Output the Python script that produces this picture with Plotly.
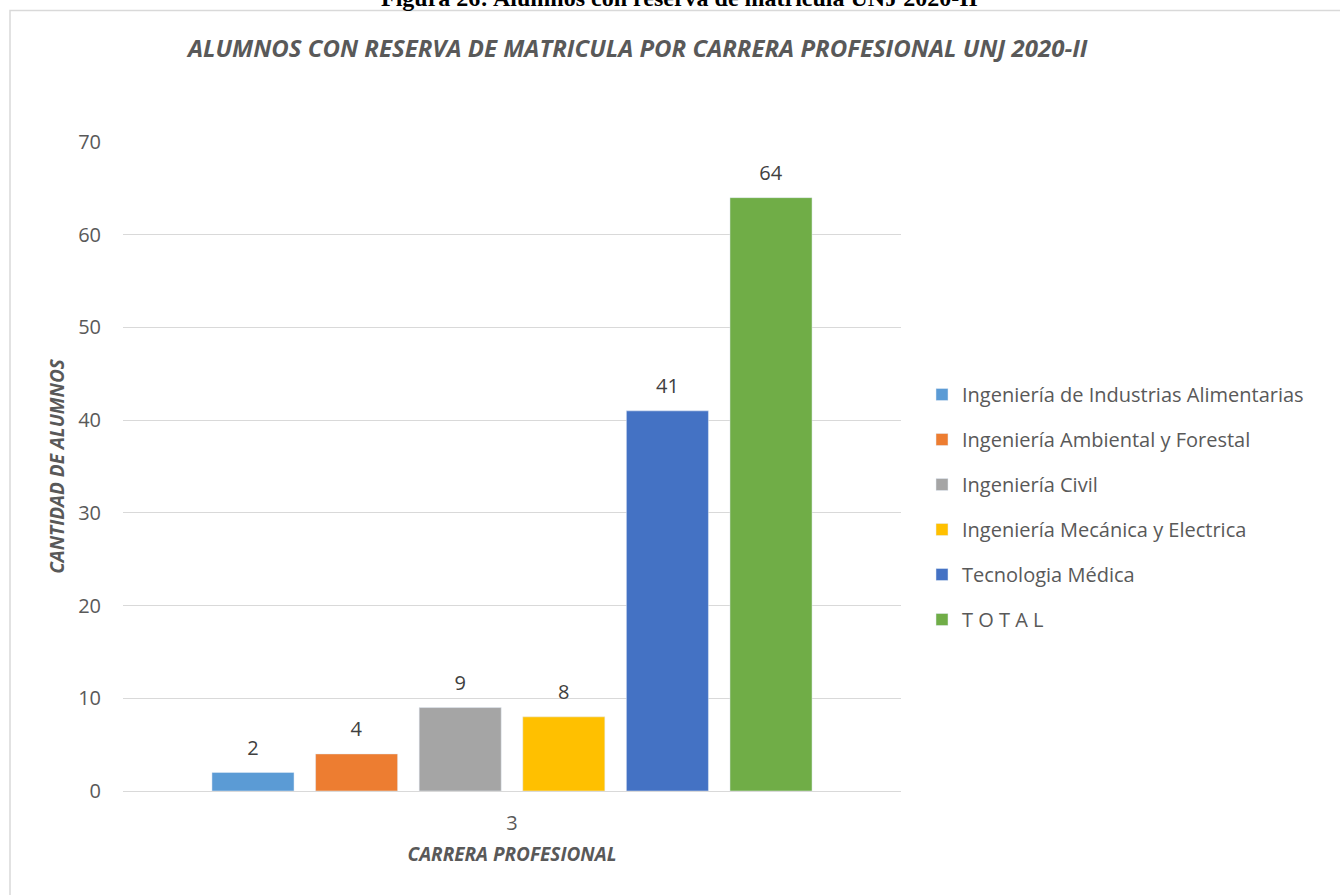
import plotly.graph_objects as go

categories = ["3"]
series_names = [
    "Ingeniería de Industrias Alimentarias",
    "Ingeniería Ambiental y Forestal",
    "Ingeniería Civil",
    "Ingeniería Mecánica y Electrica",
    "Tecnologia Médica",
    "T O T A L",
]
series_values = [2, 4, 9, 8, 41, 64]
colors = ["#5B9BD5", "#ED7D31", "#A5A5A5", "#FFC000", "#4472C4", "#70AD47"]
y_ticks = [0, 10, 20, 30, 40, 50, 60, 70]

W, H = 1340, 895
L, R, T, B = 123, 901, 142, 791

def px(x):
    return (x - L) / (R - L)

def py(y):
    return (B - y) / (B - T)

fig = go.Figure()
for i, (name, val, col) in enumerate(zip(series_names, series_values, colors)):
    fig.add_trace(go.Bar(
        x=categories, y=[val], name=name, marker_color=col,
        text=[f"<span style='font-size:20px'>{val}</span><br> "], textposition="outside",
        textfont=dict(family="Open Sans", size=9, color="#404040"),
        cliponaxis=False, legendgroup=f"g{i}",
    ))

fig.update_layout(
    width=W, height=H,
    margin=dict(l=L, r=W - R, t=T, b=H - B, autoexpand=False),
    paper_bgcolor="white", plot_bgcolor="white",
    barmode="group", bargap=0.201, bargroupgap=0.208,
    font=dict(family="Open Sans", color="#595959"),
    showlegend=True,
    legend=dict(
        x=px(922), y=py(375), xanchor="left", yanchor="top",
        font=dict(family="Open Sans", size=20, color="#595959"),
        tracegroupgap=16, itemwidth=30, bgcolor="rgba(0,0,0,0)",
    ),
    xaxis=dict(
        type="category", showgrid=False, showline=False, ticks="",
        ticklabelstandoff=18,
        tickfont=dict(size=20, color="#595959"),
        title=dict(text="<b><i>CARRERA PROFESIONAL</i></b>",
                   font=dict(family="Open Sans", size=19, color="#595959"),
                   standoff=12),
    ),
    yaxis=dict(
        range=[0, 70], tickvals=y_ticks, showgrid=True, gridcolor="#D9D9D9",
        gridwidth=1, zeroline=True, zerolinecolor="#D9D9D9", zerolinewidth=1,
        showline=False, ticks="", ticklabelstandoff=21,
        tickfont=dict(size=20, color="#595959"),
        title=dict(text="<b><i>CANTIDAD DE ALUMNOS</i></b>",
                   font=dict(family="Open Sans", size=19, color="#595959"),
                   standoff=8),
    ),
)

fig.add_annotation(
    text="<b><i>ALUMNOS CON RESERVA DE MATRICULA POR CARRERA PROFESIONAL UNJ 2020-II</i></b>",
    xref="paper", yref="paper", x=px(637), y=py(47), xanchor="center", yanchor="middle",
    showarrow=False, font=dict(family="Open Sans", size=24, color="#595959"),
)
fig.add_annotation(
    text="<b>Figura 26: Alumnos con reserva de matricula UNJ 2020-II</b>",
    xref="paper", yref="paper", x=px(679), y=py(-2), xanchor="center", yanchor="middle",
    showarrow=False, font=dict(family="Liberation Serif", size=24, color="#000000"),
)
fig.add_shape(
    type="rect", xref="paper", yref="paper",
    x0=px(10), x1=px(1350), y0=py(905), y1=py(10.5),
    line=dict(color="#D9D9D9", width=1.5), fillcolor="rgba(0,0,0,0)", layer="below",
)

fig.write_html(
    "out.html",
    config={"displayModeBar": False},
    post_script="document.body.style.margin='0';document.body.style.overflow='hidden';",
)
